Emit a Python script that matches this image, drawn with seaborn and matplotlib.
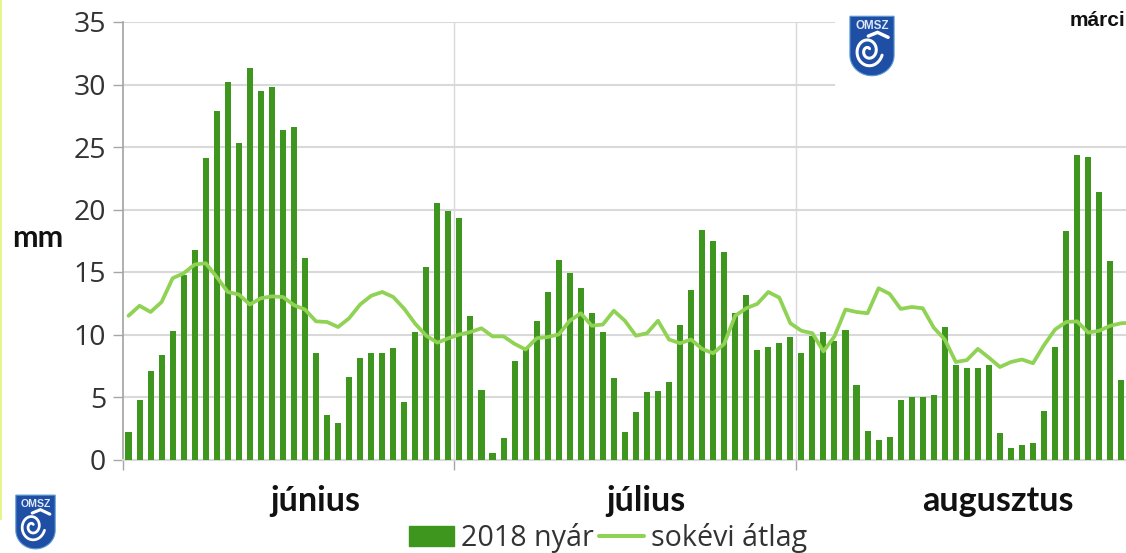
import numpy as np
import pandas as pd
import matplotlib
matplotlib.use('Agg')
import matplotlib.pyplot as plt
from matplotlib.patches import Polygon, Rectangle, Patch
from matplotlib.lines import Line2D
import seaborn as sns

# daily values, 2018 summer (last august day is outside the picture)
nyar_jun = [2.2, 4.8, 7.1, 8.4, 10.3, 14.8, 16.8, 24.1, 27.9, 30.2, 25.3, 31.3, 29.5, 29.8, 26.4,
            26.6, 16.1, 8.5, 3.6, 2.9, 6.6, 8.1, 8.5, 8.5, 8.9, 4.6, 10.2, 15.4, 20.5, 19.9]
nyar_jul = [19.3, 11.5, 5.6, 0.5, 1.7, 7.9, 9.0, 11.1, 13.4, 16.0, 14.9, 13.7, 11.7, 10.2, 6.5, 2.2,
            3.8, 5.4, 5.5, 6.2, 10.8, 13.6, 18.4, 17.5, 16.6, 11.7, 13.2, 8.8, 9.0, 9.3, 9.8]
nyar_aug = [8.5, 9.9, 10.2, 9.5, 10.4, 6.0, 2.3, 1.6, 1.8, 4.8, 5.0, 5.0, 5.2, 10.6, 7.6, 7.3, 7.3,
            7.6, 2.1, 0.9, 1.2, 1.3, 3.9, 9.0, 18.3, 24.4, 24.2, 21.4, 15.9, 6.4]

atlag_jun = [11.5, 12.3, 11.8, 12.6, 14.5, 14.9, 15.6, 15.7, 14.6, 13.4, 13.2, 12.4, 12.9, 13.05, 13.0,
             12.35, 12.0, 11.05, 11.0, 10.6, 11.3, 12.4, 13.1, 13.4, 13.0, 12.05, 10.85, 9.9, 9.35, 9.7]
atlag_jul = [10.0, 10.2, 10.5, 9.85, 9.85, 9.25, 8.8, 9.7, 9.8, 10.0, 11.1, 11.7, 10.7, 10.8, 11.9, 11.1,
             9.9, 10.1, 11.1, 9.6, 9.3, 9.6, 8.85, 8.5, 9.25, 11.5, 12.1, 12.45, 13.4, 12.95, 10.9]
atlag_aug = [10.3, 10.1, 8.65, 9.85, 12.0, 11.8, 11.7, 13.7, 13.25, 12.05, 12.2, 12.1, 10.55, 9.6, 7.8,
             7.95, 8.85, 8.15, 7.4, 7.8, 8.0, 7.7, 9.15, 10.4, 11.0, 11.05, 10.15, 10.3, 10.7, 10.9, 10.95]

months = ['június', 'július', 'augusztus']
yticks = [0, 5, 10, 15, 20, 25, 30, 35]

W, H = 1126, 553
BAR = '#3f961f'
LINE = '#8fd254'
GRID = '#d9d9d9'
AXIS = '#a6a6a6'
TEXT = '#333333'


def px(x, y):
    # image pixels to figure fraction
    return x / W, 1 - y / H


def drawLogo(fig, x0, y0, w, h):
    ax = fig.add_axes([x0 / W, 1 - (y0 + h) / H, w / W, h / H], zorder=5)
    ax.set_xlim(0, 1)
    ax.set_ylim(0, 1)
    ax.axis('off')
    t = np.linspace(np.pi, 2 * np.pi, 30)
    shield = [(0.02, 0.98), (0.98, 0.98), (0.98, 0.35)]
    shield += list(zip(0.5 + 0.48 * np.cos(t[::-1]), 0.35 + 0.33 * np.sin(t[::-1])))
    shield += [(0.02, 0.35)]
    ax.add_patch(Polygon(shield, closed=True, facecolor='#1f4fa5', edgecolor='#5b9bd5', linewidth=0.8))
    ax.text(0.5, 0.83, 'OMSZ', color='#dfe9f7', fontsize=h * 0.135, fontweight='bold',
            ha='center', va='center', family='Liberation Sans')
    # swirl of the emblem
    a = np.linspace(0, 3.6 * np.pi, 80)
    r = 0.05 + 0.26 * a / a.max()
    ax.plot(0.42 + r * np.cos(a + 1.0), 0.42 + 0.85 * r * np.sin(a + 1.0), color='white', lw=h * 0.035,
            solid_capstyle='round')
    ax.plot([0.42, 0.62, 0.85], [0.66, 0.72, 0.64], color='white', lw=h * 0.04, solid_capstyle='round')


def main():
    sns.set_theme(style='white')
    plt.rcParams['font.family'] = ['Open Sans', 'DejaVu Sans']

    nyar = nyar_jun + nyar_jul + nyar_aug
    atlag = atlag_jun + atlag_jul + atlag_aug
    df = pd.DataFrame({'nap': np.arange(len(nyar)), 'nyar': nyar})

    fig = plt.figure(figsize=(W / 100, H / 100), dpi=100)
    ax = fig.add_axes([123 / W, 1 - 459.5 / H, (W - 123) / W, 437.5 / H])

    sns.barplot(data=df, x='nap', y='nyar', native_scale=True, color=BAR, width=0.55, saturation=1,
                linewidth=0, zorder=3, ax=ax)
    sns.lineplot(x=np.arange(len(atlag)), y=atlag, color=LINE, linewidth=2.7, errorbar=None, zorder=4, ax=ax)

    ax.set_xlim(-0.5, 90.43)
    ax.set_ylim(0, 35)
    ax.set_xlabel('')
    ax.set_ylabel('')
    ax.set_yticks(yticks)
    ax.tick_params(axis='y', length=7.2, width=1, color=AXIS, labelsize=20.5, labelcolor=TEXT, pad=5, left=True)

    ends = np.cumsum([len(nyar_jun), len(nyar_jul)]) - 0.5
    ax.set_xticks(np.r_[-0.5, ends])
    ax.set_xticklabels([])
    ax.tick_params(axis='x', length=7.2, width=1, color=AXIS, bottom=True)

    ax.grid(axis='y', color=GRID, linewidth=1.5, zorder=0)
    ax.set_axisbelow(True)
    for v in ends:
        ax.axvline(v, color=GRID, linewidth=1, zorder=1)
    for s in ['top', 'right']:
        ax.spines[s].set_visible(False)
    ax.spines['left'].set_color(AXIS)
    ax.spines['bottom'].set_color(GRID)
    ax.spines['bottom'].set_linewidth(1.5)

    # the white box behind the logo hides the upper grid lines
    fig.add_artist(Rectangle(px(835, 100), (W - 835) / W, 100 / H, facecolor='white', edgecolor='none', zorder=4))

    for name, cx in zip(months, [315, 646, 998]):
        fig.text(*px(cx, 501), name, fontsize=24.5, fontweight='bold', color='#111111', ha='center', va='center',
                 family=['Lato', 'DejaVu Sans'])
    fig.text(*px(38, 238), 'mm', fontsize=22, fontweight='bold', color='#111111', ha='center', va='center',
             family=['Lato', 'DejaVu Sans'])
    fig.text(*px(1070, 21), 'márci', fontsize=15, fontweight='bold', color='#111111', ha='left', va='center',
             family='Liberation Sans', zorder=6)

    handles = [Patch(color=BAR), Line2D([0], [0], color=LINE, linewidth=2.9)]
    fig.legend(handles, ['2018 nyár', 'sokévi átlag'], ncol=2, frameon=False, fontsize=20.6,
               loc='center', bbox_to_anchor=px(608, 538), handlelength=1.57, handleheight=0.73,
               handletextpad=0.25, columnspacing=0.17, labelcolor=TEXT, borderpad=0, borderaxespad=0)

    # thin lime edge of the source image
    fig.add_artist(Rectangle(px(0, 520), 2 / W, 520 / H, facecolor='#e6f58c', edgecolor='none', zorder=6))

    drawLogo(fig, 849, 15, 46, 62)
    drawLogo(fig, 15, 494, 41, 56)

    fig.savefig('out.png', dpi=100)


if __name__ == '__main__':
    main()
